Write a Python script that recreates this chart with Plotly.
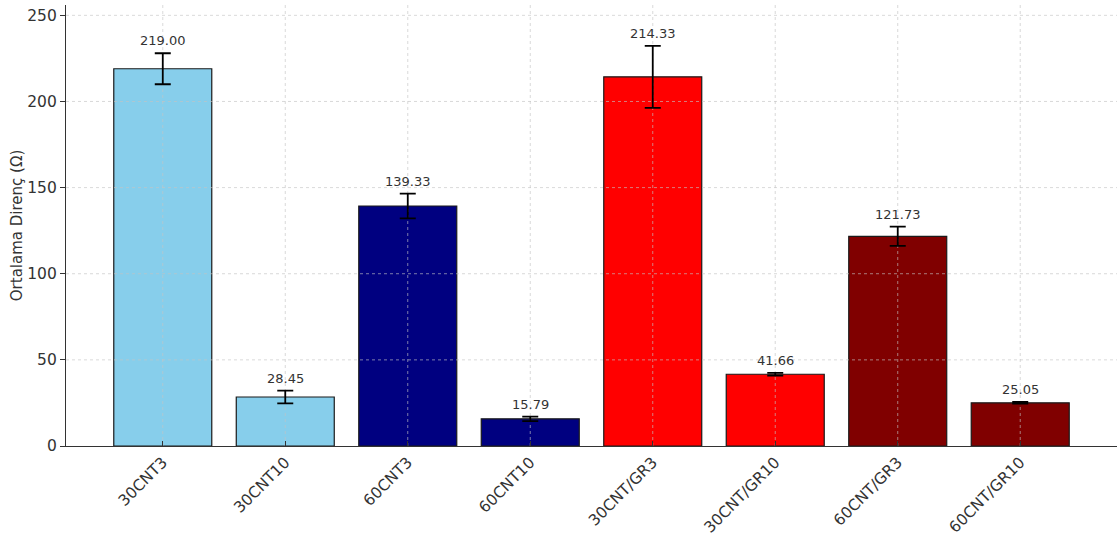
import plotly.graph_objects as go

# Mean resistance per sample with standard deviation
categories = ["30CNT3", "30CNT10", "60CNT3", "60CNT10",
              "30CNT/GR3", "30CNT/GR10", "60CNT/GR3", "60CNT/GR10"]
means = [219.00, 28.45, 139.33, 15.79, 214.33, 41.66, 121.73, 25.05]
errors = [9.0, 3.65, 7.2, 1.3, 18.0, 0.8, 5.6, 0.5]
colors = ["#87CEEB", "#87CEEB", "#000080", "#000080",
          "#FF0000", "#FF0000", "#800000", "#800000"]
y_ticks = [0, 50, 100, 150, 200, 250]
Y_MAX = 256

FONT = "DejaVu Sans"
TEXT = "#333333"
GRID = "rgba(195,195,195,0.8)"

fig = go.Figure()
fig.add_trace(go.Bar(
    x=categories,
    y=means,
    width=0.8,
    marker=dict(color=colors, line=dict(color="#1a1a1a", width=1.2)),
    hoverinfo="skip",
))

# vertical dashed grid through each category, drawn over the bars
gx, gy = [], []
for cat in categories:
    gx += [cat, cat, None]
    gy += [0, Y_MAX, None]
fig.add_trace(go.Scatter(
    x=gx, y=gy, mode="lines", hoverinfo="skip",
    line=dict(color=GRID, width=0.8, dash="3px,3px"),
))

# error bars on top of the grid
fig.add_trace(go.Scatter(
    x=categories, y=means, mode="markers",
    marker=dict(size=1, opacity=0),
    error_y=dict(type="data", array=errors, visible=True,
                 color="black", thickness=1.8, width=8),
    hoverinfo="skip",
))

# value labels above each error bar
for cat, m, e in zip(categories, means, errors):
    fig.add_annotation(x=cat, y=m + e, text=f"{m:.2f}", showarrow=False,
                       yanchor="bottom", yshift=3,
                       font=dict(family=FONT, size=13, color=TEXT))

# horizontal dashed grid
for t in y_ticks[1:]:
    fig.add_shape(type="line", xref="paper", yref="y", x0=0, x1=1,
                  y0=t, y1=t, layer="above",
                  line=dict(color=GRID, width=0.8, dash="3px,3px"))

fig.update_layout(
    width=1117, height=536,
    margin=dict(l=66, r=0, t=5, b=90),
    plot_bgcolor="white", paper_bgcolor="white",
    showlegend=False,
    bargap=0.2,
    font=dict(family=FONT, color=TEXT),
)
fig.update_xaxes(
    range=[-0.79, 7.79],
    tickangle=-45,
    tickfont=dict(family=FONT, size=15.5, color=TEXT),
    showgrid=False,
    showline=True, linecolor="#333333", linewidth=1.2,
    ticks="inside", ticklen=5, tickcolor="#333333",
    zeroline=False,
)
fig.update_yaxes(
    range=[0, Y_MAX],
    tickvals=y_ticks,
    tickfont=dict(family=FONT, size=15.5, color=TEXT),
    title=dict(text="Ortalama Direnç (Ω)", font=dict(family=FONT, size=15, color=TEXT),
               standoff=0),
    showgrid=False,
    showline=True, linecolor="#333333", linewidth=1.2,
    ticks="outside", ticklen=5, tickcolor="#333333",
    zeroline=False,
)

fig.write_html("out.html")
